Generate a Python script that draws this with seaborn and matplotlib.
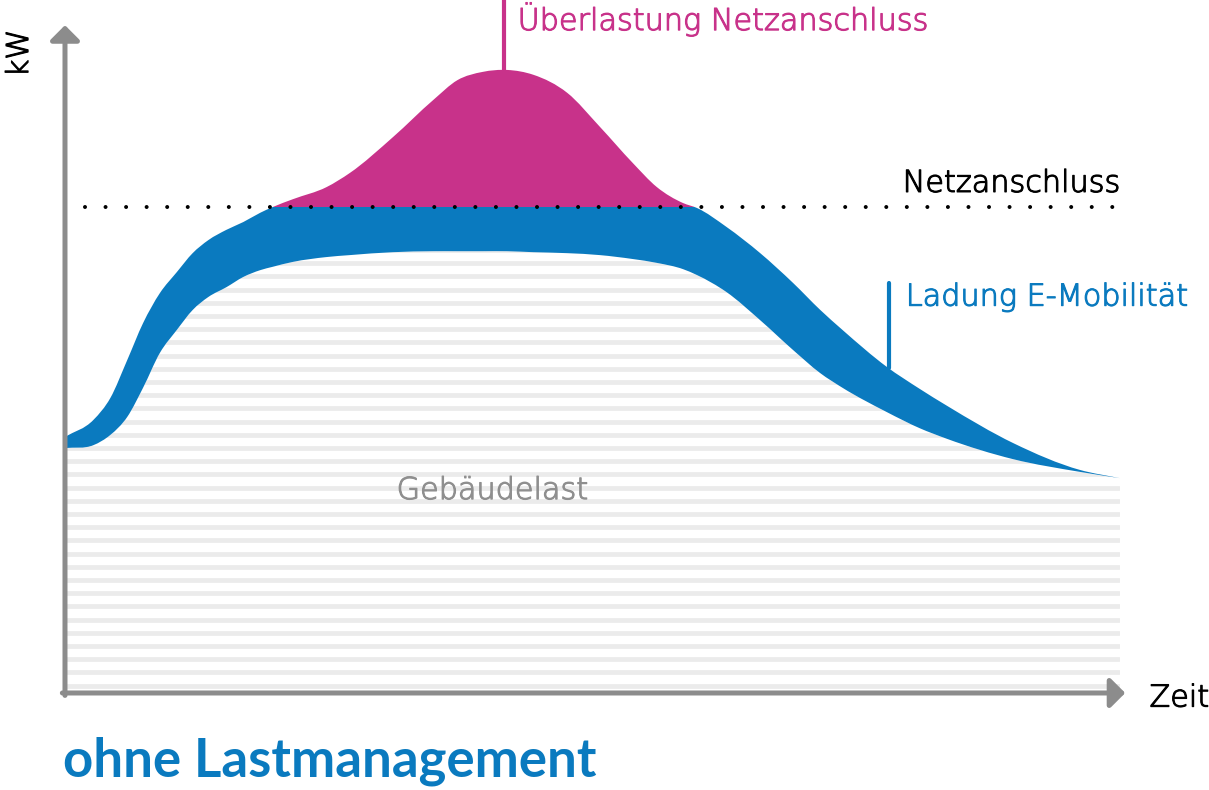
import numpy as np
import matplotlib.pyplot as plt
import matplotlib.patheffects as pe
import seaborn as sns
from matplotlib.patches import PathPatch
from matplotlib.path import Path

# time axis (arbitrary units, 0 = start, 100 = end)
zeit = [0.0, 2.7, 4.3, 5.9, 7.4, 9.0, 10.6, 12.1, 13.6, 15.3, 16.9, 18.5, 19.7,
        21.6, 24.8, 27.0, 31.1, 34.9, 37.2, 39.6, 41.9, 44.4, 47.6, 50.7, 53.8,
        56.1, 58.6, 59.9, 62.7, 65.9, 69.0, 71.6, 73.7, 77.9, 81.0, 83.6, 89.9,
        96.2, 100.0]

# building load (kW, grid connection = 100)
gebaeudelast = [50.4, 51.0, 53.1, 56.8, 62.8, 70.0, 74.7, 78.8, 81.5, 83.5, 85.6,
                87.0, 87.7, 88.7, 89.7, 90.1, 90.7, 90.9, 90.9, 90.9, 90.9, 90.7,
                90.5, 90.1, 89.3, 88.5, 87.2, 86.0, 82.5, 76.7, 70.6, 65.8, 62.8,
                57.8, 54.5, 52.3, 48.1, 45.5, 44.2]

# building load + e-mobility charging
gesamtlast = [52.7, 56.2, 60.7, 68.5, 76.1, 82.3, 86.6, 90.5, 93.2, 95.3, 96.9,
              98.8, 100.0, 101.6, 104.1, 107.0, 114.4, 122.0, 126.1, 127.8, 128.2,
              127.2, 123.5, 116.5, 109.1, 104.1, 100.8, 99.8, 95.9, 90.5, 84.4,
              78.8, 74.7, 67.1, 62.6, 59.1, 51.4, 45.9, 44.2]

netzanschluss = 100.0

BLUE = "#0a7abf"
PINK = "#c8328a"
AXIS_GRAY = "#8c8c8c"
STRIPE = "#ebebeb"


def smooth_segments(px, py):
    """Cubic hermite bezier segments through the points (tangents from np.gradient)."""
    m = np.gradient(py, px)
    verts, codes = [], []
    for i in range(len(px) - 1):
        h = px[i + 1] - px[i]
        verts += [(px[i] + h / 3, py[i] + m[i] * h / 3),
                  (px[i + 1] - h / 3, py[i + 1] - m[i + 1] * h / 3),
                  (px[i + 1], py[i + 1])]
        codes += [Path.CURVE4] * 3
    return verts, codes


def band_path(px, top, bottom):
    v1, c1 = smooth_segments(px, top)
    v2, c2 = smooth_segments(px[::-1], bottom[::-1])
    verts = [(px[0], top[0])] + v1 + [(px[-1], bottom[-1])] + v2 + [(px[0], top[0])]
    codes = [Path.MOVETO] + c1 + [Path.LINETO] + c2 + [Path.CLOSEPOLY]
    return Path(verts, codes)


sns.set_theme(style="white")
plt.rcParams["font.family"] = ["DejaVu Sans"]

fig = plt.figure(figsize=(12.09, 7.90), dpi=100)
ax = fig.add_axes([0, 0, 1, 1])
ax.set_xlim(-6.16, 108.44)
ax.set_ylim(-19.96, 142.59)
ax.set_axis_off()

x = np.array(zeit)
base = np.array(gebaeudelast)
total = np.array(gesamtlast)

# --- striped building load ---
floor = np.zeros_like(base)
clip = PathPatch(band_path(x, base, floor), facecolor="none", edgecolor="none",
                 transform=ax.transData)
ax.add_patch(clip)
stripes = ax.hlines(np.arange(1.54, 100, 2.716), x[0], x[-1],
                    colors=STRIPE, lw=3.4, zorder=1)
stripes.set_clip_path(clip)

# --- e-mobility band (below limit) and overload (above limit) ---
band = band_path(x, total, base)
below = plt.Rectangle((x[0], 0), x[-1] - x[0], netzanschluss, transform=ax.transData,
                      facecolor="none", edgecolor="none")
above = plt.Rectangle((x[0], netzanschluss), x[-1] - x[0], 50, transform=ax.transData,
                      facecolor="none", edgecolor="none")
ax.add_patch(below)
ax.add_patch(above)
blue_patch = PathPatch(band, facecolor=BLUE, edgecolor="none", zorder=2)
pink_patch = PathPatch(band, facecolor=PINK, edgecolor="none", zorder=2)
ax.add_patch(blue_patch)
ax.add_patch(pink_patch)
blue_patch.set_clip_path(below)
pink_patch.set_clip_path(above)

# grid connection limit
ax.plot([1.9, 100], [netzanschluss, netzanschluss], color="black", lw=2.9,
        linestyle=(0, (0.001, 5.1)), dash_capstyle="round", zorder=4)

# --- axes with arrows ---
arrow = dict(arrowstyle="-|>,head_length=0.5,head_width=0.5", lw=3.6,
             color=AXIS_GRAY, mutation_scale=18, shrinkA=0, shrinkB=0)
ax.annotate("", xy=(0, 137.4), xytext=(0, -0.5), arrowprops=arrow, zorder=3)
ax.annotate("", xy=(100.5, 0), xytext=(-0.25, 0), arrowprops=arrow, zorder=3)


# --- labels ---
def label(xp, yp, s, color, **kw):
    t = ax.text(xp, yp, s, color=color, fontsize=21.8, fontweight="light",
                va="baseline", **kw)
    t.set_path_effects([pe.withStroke(linewidth=0.8, foreground=color)])
    return t


ax.plot([41.66, 41.66], [total.max(), 142.6], color=PINK, lw=3, zorder=3)
label(42.9, 136.4, "Überlastung Netzanschluss", PINK, ha="left")

label(100, 103.1, "Netzanschluss", "black", ha="right")

ax.plot([78.1, 78.1], [84.4, np.interp(78.1, x, total)], color=BLUE, lw=3, zorder=3)
label(79.7, 79.7, "Ladung E-Mobilität", BLUE, ha="left")

label(40.5, 39.9, "Gebäudelast", "#8f8f8f", ha="center", zorder=3)

label(102.8, -2.8, "Zeit", "black", ha="left")
label(-3.5, 131.6, "kW", "black", rotation=90, rotation_mode="anchor", ha="center")

ax.text(-0.2, -17.1, "ohne Lastmanagement", color=BLUE, fontsize=38,
        fontweight="bold", family="Lato", ha="left", va="baseline")

fig.savefig("out.png", dpi=100)
